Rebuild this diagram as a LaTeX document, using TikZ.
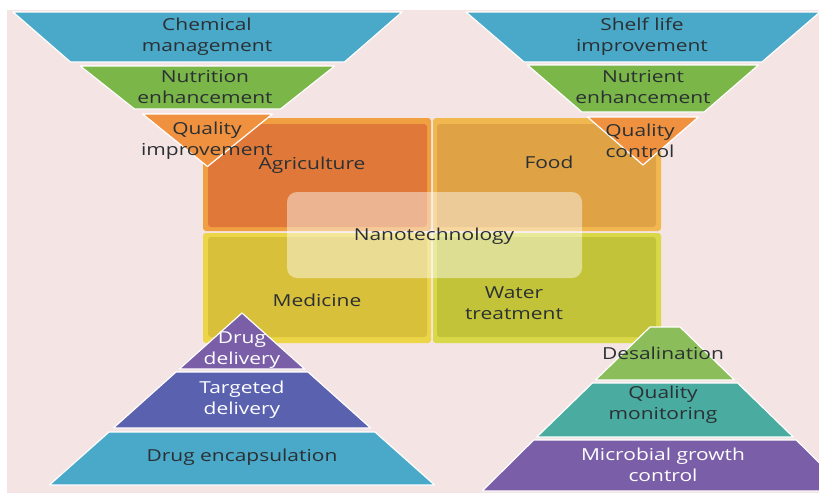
\documentclass[tikz,border=0pt]{standalone}
\usepackage{fontspec}
\setmainfont{Open Sans}[FakeStretch=1.27]
\begin{document}
\begin{tikzpicture}[x=1pt,y=-1pt,
  lbl/.style={align=center,font=\fontsize{16.5}{21}\selectfont,text=txt,inner sep=0pt},
  wlbl/.style={lbl,text=white},
  band/.style={draw=white,line width=1.2pt,line join=round},
  quad/.style={rounded corners=3pt}]
\definecolor{bg}{HTML}{F4E4E4}
\definecolor{txt}{HTML}{2A3033}
\definecolor{cblue}{HTML}{4AA8C8}
\definecolor{cgreen}{HTML}{7AB648}
\definecolor{corange}{HTML}{F0913F}
\definecolor{agri}{HTML}{E0783A}
\definecolor{agril}{HTML}{F0A040}
\definecolor{food}{HTML}{DFA245}
\definecolor{foodl}{HTML}{F2B850}
\definecolor{med}{HTML}{D9C03A}
\definecolor{medl}{HTML}{EDD548}
\definecolor{wat}{HTML}{C2C338}
\definecolor{watl}{HTML}{D8D848}
\definecolor{cpurple}{HTML}{7A5EA8}
\definecolor{cviolet}{HTML}{5A62B0}
\definecolor{cgreen2}{HTML}{8BBD5A}
\definecolor{cteal}{HTML}{4AABA0}
\useasboundingbox (0,0) rectangle (819,493);
\clip (0,0) rectangle (819,493);
\fill[white] (0,0) rectangle (819,493);
\fill[bg] (7,10) rectangle (819,493);
% central quadrants
\fill[agril,quad] (203,118) rectangle (431,231);
\fill[agri,quad] (208,124) rectangle (427,227);
\fill[foodl,quad] (433,118) rectangle (661,231);
\fill[food,quad] (437,124) rectangle (656,227);
\fill[medl,quad] (203,233) rectangle (431,343);
\fill[med,quad] (208,237) rectangle (427,337);
\fill[watl,quad] (433,233) rectangle (661,343);
\fill[wat,quad] (437,237) rectangle (656,337);
% nanotechnology overlay
\fill[white,opacity=0.45,rounded corners=10pt] (287,192) rectangle (582,278);
% top-left funnel: apex (207.5,166.5), slope 1.26
\path[band,fill=cblue] (13,12) -- (402,12) -- (344.5,62) -- (70.5,62) -- cycle;
\path[band,fill=cgreen] (80.3,66) -- (334.7,66) -- (280.5,109) -- (134.5,109) -- cycle;
\path[band,fill=corange] (142.6,114) -- (272.4,114) -- (207.5,166.5) -- cycle;
% top-right funnel: apex (643,165), slope 1.155
\path[band,fill=cblue] (466,12) -- (820,12) -- (761.9,62) -- (524.1,62) -- cycle;
\path[band,fill=cgreen] (527.5,65) -- (758.5,65) -- (704.2,112) -- (581.8,112) -- cycle;
\path[band,fill=corange] (587.5,117) -- (698.5,117) -- (643,165) -- cycle;
% bottom-left pyramid: apex (242,313), slope 1.12
\path[band,fill=cpurple] (242,313) -- (304.7,369) -- (179.3,369) -- cycle;
\path[band,fill=cviolet] (176,372) -- (308,372) -- (370.6,428) -- (113.4,428) -- cycle;
\path[band,fill=cblue] (109,432) -- (375,432) -- (434.6,485) -- (49.4,485) -- cycle;
% bottom-right pyramid: apex (665,312.5), slope 1.03
\path[band,fill=cgreen2] (650,327) -- (680,327) -- (734.5,380) -- (595.5,380) -- cycle;
\path[band,fill=cteal] (592.4,383) -- (737.6,383) -- (793.2,437) -- (536.8,437) -- cycle;
\path[band,fill=cpurple] (533.7,440) -- (796.3,440) -- (847.8,491) -- (482.2,491) -- cycle;
% labels
\node[lbl] (chem) at (207,37) {Chemical\\management};
\node[lbl] (nutr) at (205,87) {Nutrition\\enhancement};
\node[lbl] (qimp) at (207,141) {Quality\\improvement};
\node[lbl] (shelf) at (642,37) {Shelf life\\improvement};
\node[lbl] (nutri) at (643,87) {Nutrient\\enhancement};
\node[lbl] (qctl) at (640,141) {Quality\\control};
\node[lbl] (agr) at (312,165) {Agriculture};
\node[lbl] (fd) at (549,162) {Food};
\node[lbl] (nano) at (434,236) {Nanotechnology};
\node[lbl] (medc) at (317,300) {Medicine};
\node[lbl] (water) at (514,303) {Water\\treatment};
\node[wlbl] (dd) at (242,350) {Drug\\delivery};
\node[wlbl] (td) at (242,400) {Targeted\\delivery};
\node[lbl] (de) at (242,457) {Drug encapsulation};
\node[lbl] (desal) at (663,353) {Desalination};
\node[lbl] (qm) at (663,405) {Quality\\monitoring};
\node[wlbl] (mg) at (663,465) {Microbial growth\\control};
\end{tikzpicture}
\end{document}
